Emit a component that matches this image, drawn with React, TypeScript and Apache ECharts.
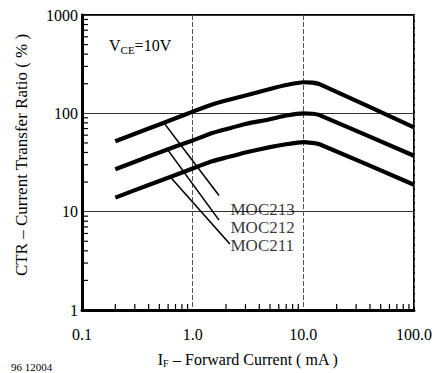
import React, { useEffect, useRef } from "react";
import * as echarts from "echarts";

// Forward current (mA) sample points
const currents = [0.2, 0.4, 0.7, 1, 1.5, 2, 3, 5, 7, 10, 12, 14, 100];
// CTR (%) for each device
const ctrMOC213 = [52, 70, 89, 104, 123, 135, 152, 177, 194, 207, 205, 198, 72];
const ctrMOC212 = [27, 36.4, 46, 53, 63, 69, 78, 87, 95, 100, 99, 96, 37];
const ctrMOC211 = [13.9, 18.7, 23.6, 27.5, 32.5, 35.5, 40, 45.3, 48.5, 51, 50, 48.5, 18.8];

// leader lines [start, end] in data coordinates
const leaderMOC213 = [[0.55, 80], [1.73, 14.6]];
const leaderMOC212 = [[0.6, 42], [1.73, 8.2]];
const leaderMOC211 = [[0.64, 22], [2.17, 4.7]];

const deviceLabels = ["MOC213", "MOC212", "MOC211"];
const labelAnchors = [[2.13, 10.5], [2.13, 6.95], [2.13, 4.5]];

const xTickValues = [0.1, 1, 10, 100];
const xTickLabels = ["0.1", "1.0", "10.0", "100.0"];
const yTickValues = [1, 10, 100, 1000];
const yTickLabels = ["1", "10", "100", "1000"];

const xMinorTicks = [0.2, 0.3, 0.4, 0.5, 0.6, 0.7, 0.8, 0.9, 2, 3, 4, 5, 6, 7, 8, 9, 20, 30, 40, 50, 60, 70, 80, 90];
const yMinorTicks = [2, 3, 4, 5, 6, 7, 8, 9, 20, 30, 40, 50, 60, 70, 80, 90, 200, 300, 400, 500, 600, 700, 800, 900];

const FONT = "'Liberation Serif', 'Times New Roman', serif";

function pickLabel(v: number, vals: number[], labels: string[]) {
  let best = 0;
  let bd = Infinity;
  vals.forEach((t, i) => {
    const d = Math.abs(Math.log10(v) - Math.log10(t));
    if (d < bd) {
      bd = d;
      best = i;
    }
  });
  return bd < 0.01 ? labels[best] : "";
}

export default function App() {
  const ref = useRef<HTMLDivElement>(null);
  useEffect(() => {
    if (!ref.current) return;
    const chart = echarts.init(ref.current, undefined, { renderer: "svg" });
    const curveStyle = { color: "#000", width: 4.2 };
    const leaderStyle = { color: "#000", width: 1.6 };
    const mk = (xs: number[], ys: number[]) => xs.map((x, i) => [x, ys[i]]);
    chart.setOption({
      animation: false,
      backgroundColor: "#fff",
      title: [
        {
          text: "V{sub|CE}=10V",
          left: 104,
          top: 31,
          textStyle: {
            fontFamily: FONT,
            fontSize: 16,
            fontWeight: "normal",
            color: "#000",
            rich: {
              sub: { fontFamily: FONT, fontSize: 11, color: "#000", verticalAlign: "bottom", padding: [8, 0, 0, 0] },
            },
          },
        },
        {
          text: "96 12004",
          left: 6,
          top: 356,
          textStyle: { fontFamily: FONT, fontSize: 11, fontWeight: "normal", color: "#000" },
        },
      ],
      graphic: [
        {
          type: "text",
          x: 21,
          y: 155,
          rotation: Math.PI / 2,
          style: {
            text: "CTR – Current Transfer Ratio ( % )",
            fontFamily: FONT,
            fontSize: 17,
            fill: "#000",
            align: "center",
            verticalAlign: "middle",
          },
        },
      ],
      grid: {
        left: 82,
        top: 15,
        right: 22,
        bottom: 59,
        show: true,
        borderColor: "#000",
        borderWidth: 2,
        backgroundColor: "transparent",
      },
      xAxis: {
        type: "log",
        logBase: 10,
        min: 0.1,
        max: 100,
        name: "I{sub|F} – Forward Current ( mA )",
        nameLocation: "middle",
        nameGap: 41,
        nameTextStyle: {
          fontFamily: FONT,
          fontSize: 16,
          color: "#000",
          rich: { sub: { fontFamily: FONT, fontSize: 10, color: "#000", padding: [7, 0, 0, 0] } },
        },
        axisLine: { show: true, lineStyle: { color: "#000", width: 3 } },
        axisTick: { show: false },
        axisLabel: {
          margin: 16,
          fontFamily: FONT,
          fontSize: 16,
          color: "#000",
          formatter: (v: number) => pickLabel(v, xTickValues, xTickLabels),
        },
        splitLine: { show: true, lineStyle: { color: "#555", width: 1, type: [5, 2] } },
      },
      yAxis: {
        type: "log",
        logBase: 10,
        min: 1,
        max: 1000,
        axisLine: { show: true, lineStyle: { color: "#000", width: 3 } },
        axisTick: { show: false },
        axisLabel: {
          margin: 4,
          fontFamily: FONT,
          fontSize: 16,
          color: "#000",
          formatter: (v: number) => pickLabel(v, yTickValues, yTickLabels),
        },
        splitLine: { show: true, lineStyle: { color: "#333", width: 1 } },
      },
      series: [
        {
          type: "custom",
          coordinateSystem: "cartesian2d",
          data: xMinorTicks.map((v) => [v, 1]),
          clip: false,
          silent: true,
          renderItem: (_p: any, api: any) => {
            const p = api.coord([api.value(0), api.value(1)]);
            return {
              type: "line",
              shape: { x1: p[0], y1: p[1], x2: p[0], y2: p[1] - 6 },
              style: { stroke: "#000", lineWidth: 1.2 },
            };
          },
        },
        {
          type: "custom",
          coordinateSystem: "cartesian2d",
          data: yMinorTicks.map((v) => [0.1, v]),
          clip: false,
          silent: true,
          renderItem: (_p: any, api: any) => {
            const p = api.coord([api.value(0), api.value(1)]);
            return {
              type: "line",
              shape: { x1: p[0], y1: p[1], x2: p[0] + 6, y2: p[1] },
              style: { stroke: "#000", lineWidth: 1.2 },
            };
          },
        },
        { type: "line", data: mk(currents, ctrMOC213), smooth: 0.15, symbol: "none", lineStyle: curveStyle },
        { type: "line", data: mk(currents, ctrMOC212), smooth: 0.15, symbol: "none", lineStyle: curveStyle },
        { type: "line", data: mk(currents, ctrMOC211), smooth: 0.15, symbol: "none", lineStyle: curveStyle },
        { type: "line", data: leaderMOC213, symbol: "none", lineStyle: leaderStyle },
        { type: "line", data: leaderMOC212, symbol: "none", lineStyle: leaderStyle },
        { type: "line", data: leaderMOC211, symbol: "none", lineStyle: leaderStyle },
        {
          type: "scatter",
          symbolSize: 1,
          itemStyle: { color: "transparent" },
          data: labelAnchors.map((a, i) => ({ value: a, name: deviceLabels[i] })),
          label: {
            show: true,
            position: "right",
            distance: 1,
            formatter: (p: any) => p.name,
            fontFamily: FONT,
            fontSize: 17,
            color: "#000",
          },
        },
      ],
    });
    return () => chart.dispose();
  }, []);
  return <div ref={ref} style={{ position: "absolute", left: 0, top: 0, width: 436, height: 373 }} />;
}
